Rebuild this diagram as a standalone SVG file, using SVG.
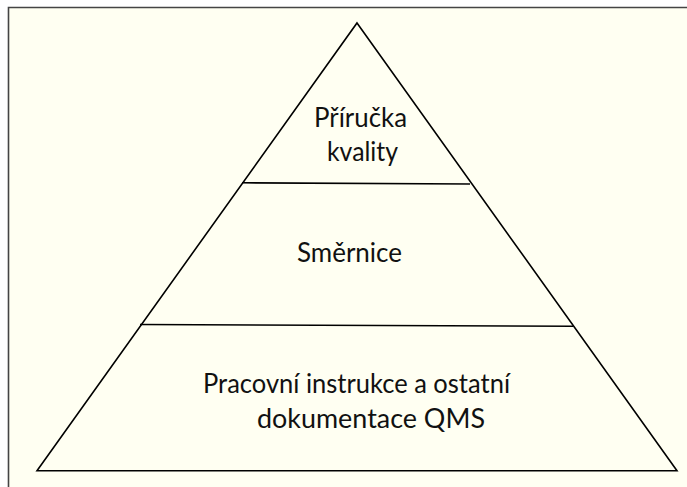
<svg xmlns="http://www.w3.org/2000/svg" width="687" height="487" viewBox="0 0 687 487">
  <style>
    .edge { fill: none; stroke: #000; stroke-width: 1.6; stroke-linejoin: miter; }
    .label { font-family: Lato, "Open Sans", "Liberation Sans", sans-serif; font-size: 27px; fill: #111; }
  </style>

  <!-- page background and frame -->
  <rect x="0" y="0" width="687" height="487" fill="#ffffff"/>
  <rect x="8" y="7" width="679" height="480" fill="#fffff2"/>
  <path d="M8.5 487 V7.5 H687" fill="none" stroke="#444" stroke-width="1.6"/>

  <!-- pyramid outline and tier dividers -->
  <g id="connectors">
    <polygon class="edge" points="357,23 677,470.7 37,470.7"/>
    <line class="edge" x1="242" y1="182.8" x2="470" y2="184"/>
    <line class="edge" x1="140" y1="324.5" x2="573" y2="326.3"/>
  </g>

  <g id="tier-top">
    <text class="label" x="314" y="127" textLength="93" lengthAdjust="spacingAndGlyphs">Příručka</text>
    <text class="label" x="327" y="161" textLength="71" lengthAdjust="spacingAndGlyphs">kvality</text>
  </g>

  <g id="tier-middle">
    <text class="label" x="297" y="262" textLength="105" lengthAdjust="spacingAndGlyphs">Směrnice</text>
  </g>

  <g id="tier-bottom">
    <text class="label" x="203" y="393" textLength="307" lengthAdjust="spacingAndGlyphs">Pracovní instrukce a ostatní</text>
    <text class="label" x="257" y="428" textLength="228" lengthAdjust="spacingAndGlyphs">dokumentace QMS</text>
  </g>
</svg>
